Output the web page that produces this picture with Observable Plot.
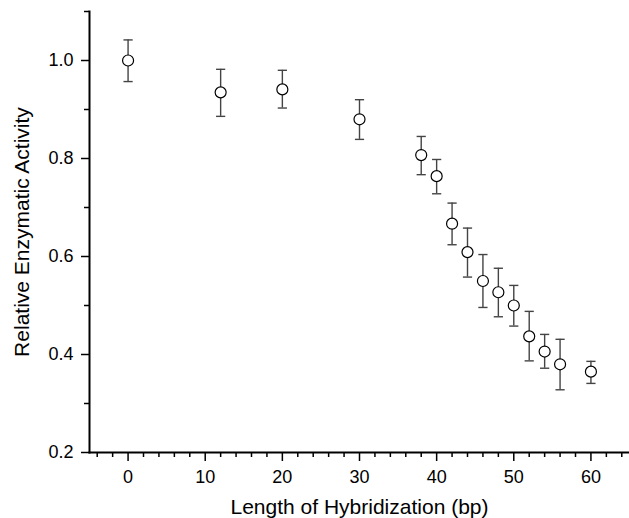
<!DOCTYPE html>
<html>
<head>
<meta charset="utf-8">
<script src="https://cdn.jsdelivr.net/npm/d3@7"></script>
<script src="https://cdn.jsdelivr.net/npm/@observablehq/plot@0.6"></script>
<style>
  html, body { margin: 0; padding: 0; background: #fff; }
</style>
</head>
<body>
<script>
// Data
const lengths   = [0, 12, 20, 30, 38, 40, 42, 44, 46, 48, 50, 52, 54, 56, 60];
const activity  = [1.000, 0.935, 0.941, 0.880, 0.807, 0.764, 0.667, 0.609, 0.550, 0.527, 0.500, 0.437, 0.406, 0.380, 0.365];
const upper     = [1.042, 0.982, 0.980, 0.920, 0.845, 0.798, 0.709, 0.658, 0.604, 0.576, 0.541, 0.488, 0.441, 0.431, 0.386];
const lower     = [0.957, 0.886, 0.903, 0.839, 0.767, 0.728, 0.624, 0.558, 0.496, 0.477, 0.458, 0.387, 0.372, 0.328, 0.341];

const xMajorTicks = [0, 10, 20, 30, 40, 50, 60];
const xMinorTicks = [-4, -2, 2, 4, 6, 8, 12, 14, 16, 18, 22, 24, 26, 28, 32, 34, 36, 38, 42, 44, 46, 48, 52, 54, 56, 58, 62, 64];
const yMajorTicks = [0.2, 0.4, 0.6, 0.8, 1.0];
const yMinorTicks = [0.3, 0.5, 0.7, 0.9, 1.1];

const xTitle = "Length of Hybridization (bp)";
const yTitle = "Relative Enzymatic Activity";

const data = lengths.map((x, i) => ({x, y: activity[i], hi: upper[i], lo: lower[i]}));

// horizontal-line symbol for error bar caps
const capSymbol = {
  draw(context, size) {
    const r = Math.sqrt(size / Math.PI);
    context.moveTo(-r, 0);
    context.lineTo(r, 0);
  }
};

const errColor = "#444";

const chart = Plot.plot({
  width: 629,
  height: 518,
  marginTop: 11,
  marginBottom: 66,
  marginLeft: 89,
  marginRight: 0,
  style: {fontFamily: "'Liberation Sans', Arial, sans-serif", color: "black", background: "white", overflow: "visible"},
  x: {domain: [-5, 65]},
  y: {domain: [0.2, 1.1]},
  marks: [
    Plot.axisX({ticks: xMajorTicks, tickSize: 9, tickPadding: 9, fontSize: 18, tickFormat: "d", strokeWidth: 1.5, label: null}),
    Plot.axisX({ticks: xMinorTicks, tickSize: 5, tickFormat: () => "", strokeWidth: 1.5, label: null}),
    Plot.axisY({ticks: yMajorTicks, tickSize: 8, tickPadding: 8, fontSize: 18, tickFormat: ".1f", strokeWidth: 1.5, label: null}),
    Plot.axisY({ticks: yMinorTicks, tickSize: 5, tickFormat: () => "", strokeWidth: 1.5, label: null}),
    Plot.frame({anchor: "left", strokeWidth: 2}),
    Plot.frame({anchor: "bottom", strokeWidth: 2}),
    Plot.text([xTitle], {frameAnchor: "bottom", dy: 61, textAnchor: "middle", lineAnchor: "bottom", fontSize: 21, fill: "black"}),
    Plot.text([yTitle], {frameAnchor: "left", dx: -61, rotate: -90, textAnchor: "middle", lineAnchor: "bottom", fontSize: 21, fill: "black"}),
    Plot.ruleX(data, {x: "x", y1: "lo", y2: "hi", stroke: errColor, strokeWidth: 1.4}),
    Plot.dot(data, {x: "x", y: "hi", symbol: capSymbol, r: 4.6, stroke: errColor, strokeWidth: 1.4, fill: "none"}),
    Plot.dot(data, {x: "x", y: "lo", symbol: capSymbol, r: 4.6, stroke: errColor, strokeWidth: 1.4, fill: "none"}),
    Plot.dot(data, {x: "x", y: "y", r: 5.5, fill: "white", stroke: "black", strokeWidth: 1.2})
  ]
});
document.body.appendChild(chart);
</script>
</body>
</html>
